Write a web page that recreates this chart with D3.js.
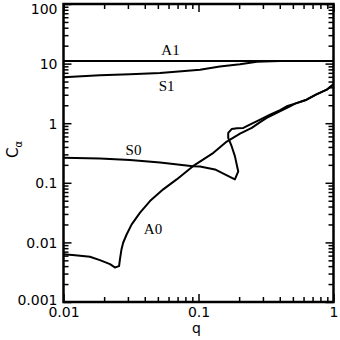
<!DOCTYPE html>
<html>
<head>
<meta charset="utf-8">
<script src="https://cdn.jsdelivr.net/npm/d3@7"></script>
<style>
  body { margin: 0; background: #fff; }
  svg { display: block; }
</style>
</head>
<body>
<div id="chart"></div>
<script>
// mode curves: q vs C_alpha
var qA1 = [0.01, 1];
var cA1 = [11.1, 11.1];

var qS1 = [0.01, 0.0186, 0.0311, 0.0519, 0.1026, 0.144, 0.203, 0.271, 0.402];
var cS1 = [5.9, 6.37, 6.62, 6.93, 7.87, 8.94, 9.73, 10.7, 11.1];

var qS0 = [0.01, 0.0186, 0.0311, 0.0519, 0.091, 0.1026, 0.1324, 0.186, 0.197, 0.186, 0.176, 0.166,
           0.166, 0.176, 0.193, 0.215, 0.240, 0.286, 0.339, 0.402, 0.450, 0.519, 0.632, 0.741, 0.891, 1.0];
var cS0 = [0.263, 0.256, 0.241, 0.219, 0.190, 0.188, 0.1675, 0.114, 0.155, 0.280, 0.411, 0.567,
           0.689, 0.797, 0.822, 0.834, 0.948, 1.15, 1.39, 1.66, 1.92, 2.13, 2.48, 3.01, 3.65, 4.5];

var qA0 = [0.01, 0.0122, 0.0157, 0.0186, 0.0221, 0.0240, 0.0258, 0.0262, 0.0269, 0.0277, 0.0294,
           0.0320, 0.0369, 0.0437, 0.0548, 0.0689, 0.091, 0.129, 0.162, 0.203, 0.248, 0.286, 0.320,
           0.358, 0.425, 0.476, 0.519, 0.632, 0.741, 0.891, 1.0];
var cA0 = [0.00635, 0.00611, 0.00573, 0.00504, 0.00432, 0.00380, 0.00400, 0.00524, 0.00769, 0.00996,
           0.0137, 0.0201, 0.0316, 0.0494, 0.0776, 0.114, 0.190, 0.318, 0.492, 0.670, 0.834, 1.04,
           1.23, 1.39, 1.69, 1.92, 2.13, 2.48, 3.01, 3.65, 4.5];

var curveNames = ['A1', 'S1', 'S0', 'A0'];
// label anchor (q, C) for each curve name
var labelQ = [0.062, 0.058, 0.033, 0.046];
var labelC = [14.0, 3.5, 0.29, 0.0137];

var xTicks = [0.01, 0.1, 1];
var xTickLabels = ['0.01', '0.1', '1'];
var yTicks = [0.001, 0.01, 0.1, 1, 10, 100];
var yTickLabels = ['0.001', '0.01', '0.1', '1', '10', '100'];

;(function (window, document, undefined) {

  'use strict';

  var W = 340, H = 340;
  var left = 63.5, right = 333.5, top = 4, bottom = 302;

  var svg = d3.select('#chart').append('svg')
    .attr('width', W)
    .attr('height', H);

  var x = d3.scaleLog().domain([0.01, 1]).range([left, right]);
  var y = d3.scaleLog().domain([0.001, 100]).range([bottom, top]);

  var minors = function (lo, hi) {
    var out = [];
    for (var d = lo; d < hi * 0.999; d *= 10) {
      for (var k = 2; k <= 9; k++) out.push(d * k);
    }
    return out;
  };

  var xMinor = minors(0.01, 1);
  var yMinor = minors(0.001, 100);

  // ticks on all four sides, pointing inward
  var addAxis = function (axis, tx, ty) {
    var g = svg.append('g')
      .attr('transform', 'translate(' + tx + ',' + ty + ')')
      .call(axis);
    g.select('.domain').remove();
    g.selectAll('.tick line').attr('stroke', '#000').attr('stroke-width', 1.5);
    return g;
  };

  addAxis(d3.axisBottom(x).tickValues(xMinor).tickSize(-5).tickFormat(''), 0, bottom);
  addAxis(d3.axisTop(x).tickValues(xMinor).tickSize(-5).tickFormat(''), 0, top);
  addAxis(d3.axisLeft(y).tickValues(yMinor).tickSize(-5).tickFormat(''), left, 0);
  addAxis(d3.axisRight(y).tickValues(yMinor).tickSize(-5).tickFormat(''), right, 0);

  addAxis(d3.axisTop(x).tickValues(xTicks).tickSize(-8).tickFormat(''), 0, top);
  addAxis(d3.axisRight(y).tickValues(yTicks).tickSize(-8).tickFormat(''), right, 0);

  var gx = addAxis(d3.axisBottom(x).tickValues(xTicks).tickSize(-8)
    .tickFormat(function (d, i) { return xTickLabels[i]; }), 0, bottom);
  gx.selectAll('.tick text')
    .attr('y', 15)
    .attr('dy', 0)
    .attr('font-family', 'DejaVu Sans, sans-serif')
    .attr('font-size', 14)
    .attr('fill', '#000');

  var gy = addAxis(d3.axisLeft(y).tickValues(yTicks).tickSize(-8)
    .tickFormat(function (d, i) { return yTickLabels[i]; }), left, 0);
  gy.selectAll('.tick text')
    .attr('x', -6)
    .attr('dy', '0.36em')
    .attr('font-family', 'DejaVu Sans, sans-serif')
    .attr('font-size', 14)
    .attr('fill', '#000');
  // keep end labels inside the picture
  gy.selectAll('.tick text')
    .filter(function (d) { return d === 100; })
    .attr('y', 4);
  gy.selectAll('.tick text')
    .filter(function (d) { return d === 0.001; })
    .attr('y', -3);

  var line = d3.line()
    .x(function (d) { return x(d[0]); })
    .y(function (d) { return y(d[1]); });

  var series = [[qA1, cA1], [qS1, cS1], [qS0, cS0], [qA0, cA0]];

  svg.append('g').selectAll('path')
    .data(series)
    .enter().append('path')
    .attr('d', function (s) { return line(d3.zip(s[0], s[1])); })
    .attr('fill', 'none')
    .attr('stroke', '#000')
    .attr('stroke-width', 2)
    .attr('stroke-linejoin', 'round');

  svg.append('g').selectAll('text')
    .data(curveNames)
    .enter().append('text')
    .attr('x', function (d, i) { return x(labelQ[i]); })
    .attr('y', function (d, i) { return y(labelC[i]); })
    .attr('text-anchor', 'middle')
    .attr('font-family', 'Liberation Serif, serif')
    .attr('font-size', 15)
    .attr('fill', '#000')
    .text(function (d) { return d; });

  // frame
  svg.append('rect')
    .attr('x', left)
    .attr('y', top)
    .attr('width', right - left)
    .attr('height', bottom - top)
    .attr('fill', 'none')
    .attr('stroke', '#000')
    .attr('stroke-width', 2.5);

  svg.append('text')
    .attr('x', x(0.1) - 2)
    .attr('y', 333)
    .attr('text-anchor', 'middle')
    .attr('font-family', 'DejaVu Sans, sans-serif')
    .attr('font-size', 14)
    .attr('fill', '#000')
    .text('q');

  var ylab = svg.append('text')
    .attr('transform', 'translate(18,' + 158 + ') rotate(-90)')
    .attr('font-family', 'DejaVu Sans, sans-serif')
    .attr('font-size', 15)
    .attr('fill', '#000');
  ylab.append('tspan').text('C');
  ylab.append('tspan').attr('dy', 4).attr('font-size', 10).text('\u03b1');

})(window, document);
</script>
</body>
</html>
